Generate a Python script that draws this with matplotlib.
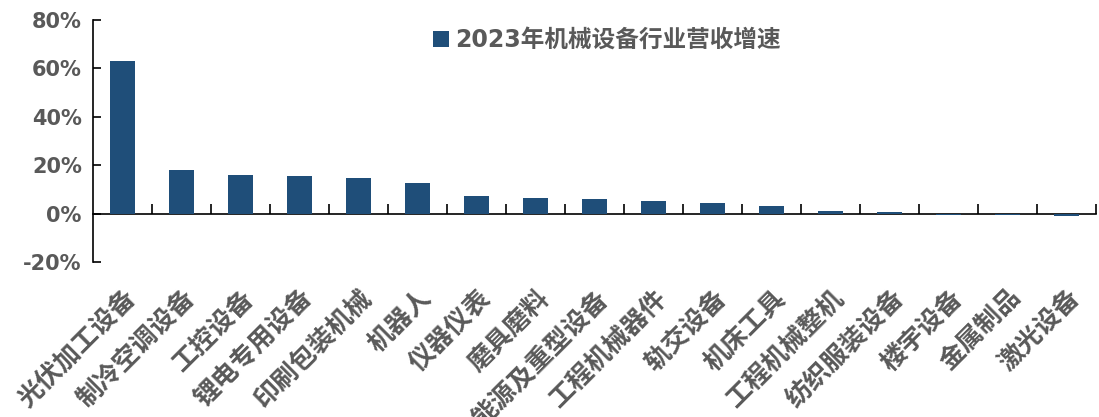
import numpy as np
import matplotlib.pyplot as plt
from matplotlib.ticker import FixedLocator, PercentFormatter

# ----------------------------
# Data
# ----------------------------

categories = [
    "光伏加工设备", "制冷空调设备", "工控设备", "锂电专用设备", "印刷包装机械",
    "机器人", "仪器仪表", "磨具磨料", "能源及重型设备", "工程机械器件",
    "轨交设备", "机床工具", "工程机械整机", "纺织服装设备", "楼宇设备",
    "金属制品", "激光设备",
]

growth = [
    63.1, 18.1, 16.1, 15.3, 14.8,
    12.8, 7.4, 6.6, 6.2, 5.0,
    4.2, 3.0, 1.2, 0.8, -0.6,
    -0.5, -1.0,
]

series_name = "2023年机械设备行业营收增速"

# ----------------------------
# Style
# ----------------------------

bar_color = "#1F4E79"
text_color = "#595959"
cjk = ["Noto Sans CJK SC", "DejaVu Sans"]
latin = ["DejaVu Sans", "Noto Sans CJK SC"]

plt.rcParams["font.family"] = cjk
plt.rcParams["axes.unicode_minus"] = False

fig = plt.figure(figsize=(10.99, 4.17), dpi=100)
ax = fig.add_axes([0.0846, 0.372, 0.913, 0.580])

x = np.arange(len(categories))

ax.bar(x, growth, width=0.42, color=bar_color, label=series_name, zorder=3)

# ----------------------------
# Axes
# ----------------------------

ax.set_xlim(-0.5, len(categories) - 0.5)
ax.set_ylim(-20, 80)

ax.spines["top"].set_visible(False)
ax.spines["right"].set_visible(False)
ax.spines["bottom"].set_position(("data", 0))
ax.spines["left"].set_linewidth(1.2)
ax.spines["bottom"].set_linewidth(1.2)

ax.set_yticks([-20, 0, 20, 40, 60, 80])
ax.yaxis.set_major_formatter(PercentFormatter(decimals=0))
ax.tick_params(axis="y", direction="in", length=6, width=1.2, pad=8)
for lbl in ax.get_yticklabels():
    lbl.set_fontfamily(latin)
    lbl.set_fontweight("bold")
    lbl.set_fontsize(15)
    lbl.set_color(text_color)

# category labels below the plot, separator ticks on the zero line
ax.set_xticks(x)
ax.set_xticklabels(categories, rotation=45, ha="right",
                   rotation_mode="anchor", fontsize=18.5,
                   fontweight="bold", color=text_color)
ax.tick_params(axis="x", which="major", length=0, pad=51)
ax.xaxis.set_minor_locator(FixedLocator(np.arange(0.5, len(categories), 1.0)))
ax.tick_params(axis="x", which="minor", direction="in", length=7, width=1.2)

# ----------------------------
# Legend
# ----------------------------

leg = ax.legend(loc="center left", bbox_to_anchor=(0.383, 0.904),
                bbox_transform=fig.transFigure, frameon=False,
                handlelength=0.7, handleheight=0.7, handletextpad=0.25,
                borderpad=0, prop={"family": latin, "weight": "bold",
                                   "size": 17})
for t in leg.get_texts():
    t.set_color(text_color)

plt.savefig("out.png", dpi=100)
